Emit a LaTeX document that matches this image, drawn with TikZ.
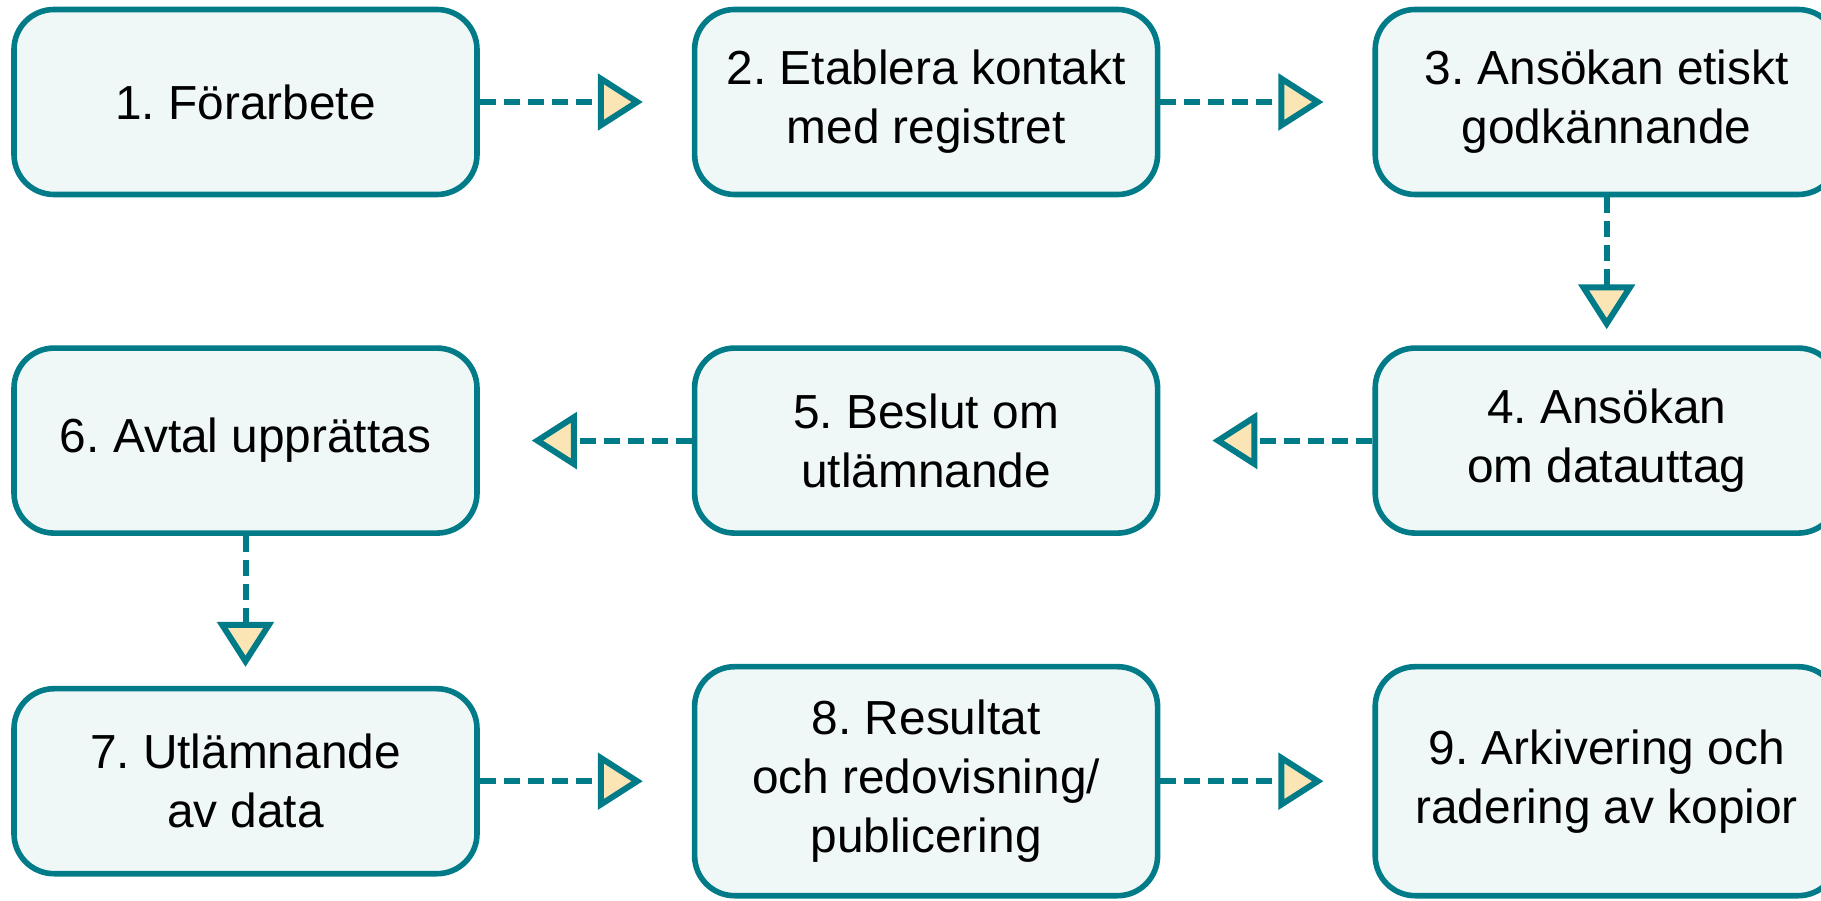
\documentclass[tikz,border=0pt]{standalone}
\usepackage{fontspec}
\setmainfont{Liberation Sans}
\frenchspacing
\usetikzlibrary{positioning,arrows.meta}
\definecolor{flowteal}{HTML}{007B87}
\definecolor{boxfill}{HTML}{F0F7F7}
\definecolor{headfill}{HTML}{FBE5B5}
\begin{document}
\begin{tikzpicture}[x=1pt,y=1pt,
    stepbox/.style={draw=flowteal, line width=2.8pt, fill=boxfill, rounded corners=20pt,
      align=center, minimum width=231.5pt, minimum height=92.5pt,
      font=\fontsize{23.9}{29.5}\selectfont},
    tallbox/.style={stepbox, minimum height=114.5pt},
    flow/.style={draw=flowteal, line width=3pt, dash pattern=on 8pt off 4pt,
      -{Triangle[length=22.5pt, width=28pt, fill=headfill]}},
    across/.style={flow, shorten >=24.5pt},
    down/.style={flow, shorten >=8pt},
    node distance=74pt and 106pt]
  \useasboundingbox (0,0) rectangle (910.5,450);
  % first row, left to right
  \node[stepbox] (s1) at (122.75,399) {1. Förarbete};
  \node[stepbox, right=of s1] (s2) {2. Etablera kontakt\\med registret};
  \node[stepbox, right=of s2] (s3) {3. Ansökan etiskt\\godkännande};
  % second row runs back
  \node[stepbox, below=of s3] (s4) {4. Ansökan\\om datauttag};
  \node[stepbox, left=of s4] (s5) {5. Beslut om\\utlämnande};
  \node[stepbox, left=of s5] (s6) {6. Avtal upprättas};
  % third row
  \node[stepbox, below=75pt of s6] (s7) {7. Utlämnande\\av data};
  \node[tallbox, right=of s7] (s8) {8. Resultat\\och redovisning/\\publicering};
  \node[tallbox, right=of s8] (s9) {9. Arkivering och\\radering av kopior};

  \draw[across] (s1) -- (s2);
  \draw[across] (s2) -- (s3);
  \draw[down] (s3) -- (s4);
  \draw[across, shorten >=26pt] (s4) -- (s5);
  \draw[across, shorten >=26pt] (s5) -- (s6);
  \draw[down, shorten >=9.5pt] (s6) -- (s7);
  \draw[across] (s7) -- (s8);
  \draw[across] (s8) -- (s9);
\end{tikzpicture}
\end{document}
